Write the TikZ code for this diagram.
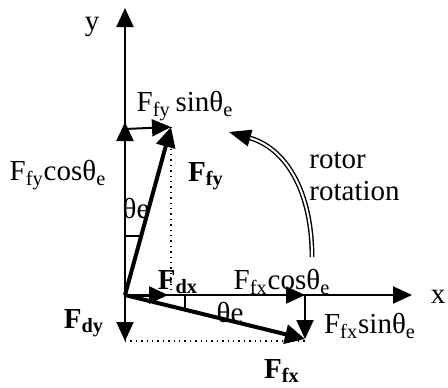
\documentclass[tikz,border=0pt]{standalone}
\usepackage{fontspec}
\setmainfont{Liberation Serif}
\usetikzlibrary{arrows.meta}
\newcommand{\tht}{θ\textsubscript{e}}

\begin{document}
\begin{tikzpicture}[x=0.5pt, y=-0.5pt, every node/.style={font=\fontsize{14.5}{16}\selectfont, inner sep=0pt}, >={Triangle[length=9.5pt, width=8.5pt]}]
\useasboundingbox (0,0) rectangle (448,387);
\coordinate (o) at (125,295);
\coordinate (yt) at (125,8);
\coordinate (xt) at (412,295);
\coordinate (fyc) at (125,122);
\coordinate (fys) at (125,129);
\coordinate (fy) at (171,127);
\coordinate (fdx) at (168,295);
\coordinate (fxc) at (305,295);
\coordinate (fx) at (305,339);
\coordinate (fdy) at (125,341);
\coordinate (ta) at (125,236);
\coordinate (tb) at (185,295);
\coordinate (rs) at (312,257);
\coordinate (re) at (229,132);
% axes and components
\foreach \a/\b in {o/yt,o/xt,o/fyc,fys/fy,o/fxc,fxc/fx,o/fdy} \draw[->, line width=1pt] (\a) -- (\b);
\draw[->, line width=1.5pt] (o) -- (fdx);
\foreach \b in {fy,fx} \draw[-{Triangle[length=10pt, width=9.5pt]}, line width=2pt] (o) -- (\b);
\draw[dotted, line width=0.7pt] (fy) -- (fy |- o);
\draw[dotted, line width=0.7pt] (fdy) -- (fdy -| fx);
\draw[line width=0.8pt] (ta) -- ++(14,0);
\draw[line width=0.8pt] (tb) -- ++(0,13);
\draw[double, double distance=1pt, line width=0.7pt, -{Triangle[length=11pt, width=8.5pt]}] (rs) .. controls (312,190) and (285,148) .. (re);
% labels
\node (ylab) at (92,27) {y};
\node (xlab) at (438,297) {x};
\node (fyslab) at (185,106) {F\textsubscript{fy}\,sin\tht};
\node (fyclab) at (58,175) {F\textsubscript{fy}cos\tht};
\node (fylab) at (206,176) {\textbf{F\textsubscript{fy}}};
\node (tha) at (136,208) {θe};
\node[anchor=west, align=left] (rot) at (309,176) {rotor\\rotation};
\node (fdxlab) at (178,282) {\textbf{F\textsubscript{dx}}};
\node (fxclab) at (282,282) {F\textsubscript{fx}cos\tht};
\node (thb) at (230,312) {θe};
\node (fxslab) at (370,326) {F\textsubscript{fx}sin\tht};
\node (fxlab) at (282,371) {\textbf{F\textsubscript{fx}}};
\node (fdylab) at (84,323) {\textbf{F\textsubscript{dy}}};
\end{tikzpicture}
\end{document}
